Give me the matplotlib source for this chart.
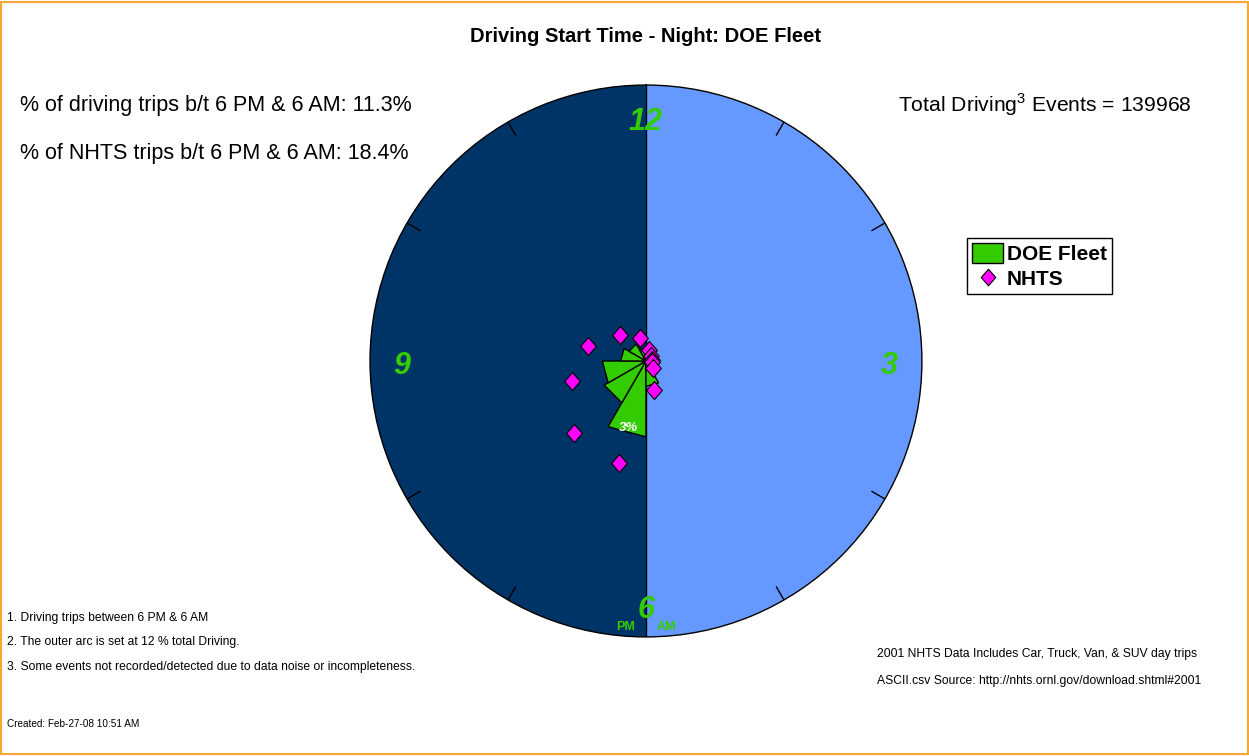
import numpy as np
import matplotlib
matplotlib.use("Agg")
import matplotlib.pyplot as plt
from matplotlib.patches import Patch, Rectangle
from matplotlib.lines import Line2D

plt.rcParams['font.family'] = ['Liberation Sans', 'DejaVu Sans']
plt.rcParams['mathtext.fontset'] = 'custom'
plt.rcParams['mathtext.rm'] = 'Liberation Sans'

# hour start on a 12 h clock face, 6 PM -> 6 AM
hour_start = [6, 7, 8, 9, 10, 11, 0, 1, 2, 3, 4, 5]
hour_names = ["6 PM", "7 PM", "8 PM", "9 PM", "10 PM", "11 PM",
              "12 AM", "1 AM", "2 AM", "3 AM", "4 AM", "5 AM"]
# % of total driving starting in each hour
doe_pct = [3.3, 2.1, 1.9, 1.1, 0.85, 0.55, 0.35, 0.2, 0.15, 0.2, 0.5, 1.1]
nhts_pct = [4.6, 4.4, 3.35, 2.6, 1.6, 1.03, 0.49, 0.31, 0.25, 0.25, 0.43, 1.29]
outer_pct = 12
clock_labels = ["12", "3", "6", "9"]
clock_hours = [0, 3, 6, 9]
minor_hours = [1, 2, 4, 5, 7, 8, 10, 11]

green = "#33CC00"
magenta = "#FF00FF"
navy = "#003366"
light = "#6699FF"

# slightly tall diamond like the original marker
diamond = [(0, 1.15), (1, 0), (0, -1.15), (-1, 0), (0, 1.15)]

fig = plt.figure(figsize=(12.49, 7.56), dpi=100)
ax = fig.add_axes([0.5172 - 0.221, 0.5225 - 0.365, 0.442, 0.730], projection='polar')
ax.set_theta_zero_location('N')
ax.set_theta_direction(-1)
ax.set_rlim(0, outer_pct)
ax.set_xticks([])
ax.set_yticks([])
ax.grid(False)
ax.spines['polar'].set_linewidth(1.0)

def hr(h):
    return np.radians(h * 30.0)

# halves of the face
ax.bar([0], [outer_pct], width=np.pi, align='edge', color=light, linewidth=0, zorder=1)
ax.bar([np.pi], [outer_pct], width=np.pi, align='edge', color=navy, linewidth=0, zorder=1)
ax.plot([0, 0], [0, outer_pct], color='black', lw=1, zorder=2)
ax.plot([np.pi, np.pi], [0, outer_pct], color='black', lw=1, zorder=2)

for h in minor_hours:
    ax.plot([hr(h), hr(h)], [11.35, 11.95], color='black', lw=1, zorder=2)

for lab, h in zip(clock_labels, clock_hours):
    ax.annotate(lab, xy=(hr(h), 10.6), xytext=(0, -5), textcoords='offset pixels',
                color=green, fontsize=22, fontweight='bold', fontstyle='italic',
                ha='center', va='center', zorder=3)

# DOE wedges (straight-edged triangles)
for h, v in zip(hour_start, doe_pct):
    ax.fill([hr(h), hr(h), hr(h + 1)], [0, v, v], facecolor=green,
            edgecolor='black', lw=1, zorder=4)

ax.annotate("%d%%" % round(doe_pct[0]), xy=(hr(6.5), doe_pct[0] * 0.86), xytext=(-1, -4),
            textcoords='offset pixels', color='white', fontsize=9.5, fontweight='bold',
            fontstyle='italic', ha='center', va='center', zorder=5)

# NHTS points at the middle of each hour
ax.plot([hr(h + 0.5) for h in hour_start], nhts_pct, linestyle='none', marker=diamond,
        markersize=13, markerfacecolor=magenta, markeredgecolor='black',
        markeredgewidth=0.8, zorder=6)

fig.text(626 / 1249, 1 - 627 / 756, "PM", color=green, fontsize=9, fontweight='bold',
         ha='center', va='center')
fig.text(666 / 1249, 1 - 627 / 756, "AM", color=green, fontsize=9, fontweight='bold',
         ha='center', va='center')

fig.text(645 / 1249, 1 - 37 / 756, "Driving Start Time - Night: DOE Fleet",
         fontsize=14.5, fontweight='bold', ha='center', va='center')
fig.text(20 / 1249, 1 - 106 / 756, "% of driving trips b/t 6 PM & 6 AM: 11.3%",
         fontsize=15.5, ha='left', va='center')
fig.text(20 / 1249, 1 - 154 / 756, "% of NHTS trips b/t 6 PM & 6 AM: 18.4%",
         fontsize=15.5, ha='left', va='center')
fig.text(1192 / 1249, 1 - 105 / 756, "Total Driving$^3$ Events = 139968",
         fontsize=15.2, ha='right', va='center')

notes = ["1. Driving trips between 6 PM & 6 AM",
         "2. The outer arc is set at 12 % total Driving.",
         "3. Some events not recorded/detected due to data noise or incompleteness."]
for i, n in enumerate(notes):
    fig.text(7 / 1249, 1 - (618 + 24.5 * i) / 756, n, fontsize=8.7, ha='left', va='center')
fig.text(7 / 1249, 1 - 724 / 756, "Created: Feb-27-08 10:51 AM", fontsize=7.2,
         ha='left', va='center')
fig.text(877 / 1249, 1 - 654 / 756, "2001 NHTS Data Includes Car, Truck, Van, & SUV day trips",
         fontsize=8.75, ha='left', va='center')
fig.text(877 / 1249, 1 - 681 / 756, "ASCII.csv Source: http://nhts.ornl.gov/download.shtml#2001",
         fontsize=8.75, ha='left', va='center')

handles = [Patch(facecolor=green, edgecolor='black', label='DOE Fleet'),
           Line2D([], [], linestyle='none', marker=diamond, markersize=12, markerfacecolor=magenta,
                  markeredgecolor='black', markeredgewidth=0.8, label='NHTS')]
leg = fig.legend(handles=handles, loc='upper left', bbox_to_anchor=(967 / 1249, 1 - 238 / 756),
                 prop={'size': 15, 'weight': 'bold'}, frameon=True, fancybox=False,
                 edgecolor='black', framealpha=1, borderpad=0.25, labelspacing=0.2,
                 handlelength=1.5, handleheight=1.05, handletextpad=0.15, borderaxespad=0)
leg.get_frame().set_linewidth(1.0)

fig.patches.append(Rectangle((0.001, 0.002), 0.998, 0.996, transform=fig.transFigure,
                             fill=False, edgecolor='#F7A833', lw=1.5))

fig.savefig("out.png", dpi=100)
